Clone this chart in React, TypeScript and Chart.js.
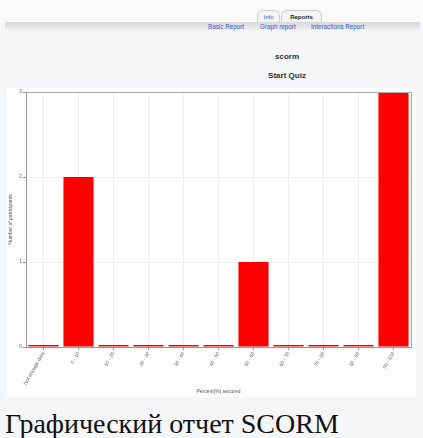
import React, { useEffect, useRef } from "react";
import { Chart, registerables } from "chart.js";

Chart.register(...registerables);

const categories = [
  "Not enough data",
  "0 - 10",
  "10 - 20",
  "20 - 30",
  "30 - 40",
  "40 - 50",
  "50 - 60",
  "60 - 70",
  "70 - 80",
  "80 - 90",
  "90 - 100",
];
const participants = [0, 2, 0, 0, 0, 0, 1, 0, 0, 0, 3];
const yTicks = [0, 1, 2, 3];

export default function App() {
  const ref = useRef<HTMLCanvasElement | null>(null);

  useEffect(() => {
    document.body.style.margin = "0";
    const canvas = ref.current;
    if (!canvas) return;
    const chart = new Chart(canvas, {
      type: "bar",
      data: {
        labels: categories,
        datasets: [
          {
            data: participants,
            backgroundColor: "#ff0000",
            borderWidth: 0,
            minBarLength: 2,
            categoryPercentage: 1,
            barPercentage: 0.86,
          },
        ],
      },
      options: {
        animation: false,
        responsive: false,
        maintainAspectRatio: false,
        layout: { padding: { top: 4, right: 5, left: 0, bottom: 0 } },
        plugins: {
          legend: { display: false },
          tooltip: { enabled: false },
        },
        scales: {
          x: {
            offset: true,
            grid: {
              offset: false,
              color: "#eeeeee",
              drawTicks: true,
              tickLength: 3,
              tickColor: "#999999",
            },
            border: { display: true, color: "#999999", width: 1 },
            ticks: {
              autoSkip: false,
              maxRotation: 60,
              minRotation: 60,
              font: { size: 5, family: "Liberation Sans" },
              color: "#666666",
              padding: 1,
            },
            title: {
              display: true,
              text: "Percent(%) secured",
              font: { size: 5, family: "Liberation Sans" },
              color: "#555555",
              padding: { top: 6, bottom: 2 },
            },
            afterFit: (s: any) => {
              s.height = 50;
            },
          },
          y: {
            min: 0,
            max: 3,
            afterBuildTicks: (s: any) => {
              s.ticks = yTicks.map((v) => ({ value: v }));
            },
            grid: { color: "#eeeeee", tickLength: 3, tickColor: "#999999" },
            border: { display: true, color: "#999999", width: 1 },
            ticks: {
              font: { size: 5, family: "Liberation Sans" },
              color: "#666666",
              padding: 1,
            },
            title: {
              display: true,
              text: "Number of participants",
              font: { size: 5, family: "Liberation Sans" },
              color: "#555555",
              padding: 1,
            },
            afterFit: (s: any) => {
              s.width = 19;
            },
          },
        },
      },
      plugins: [
        {
          id: "frame",
          afterDraw: (c: any) => {
            const { ctx, chartArea: a } = c;
            ctx.save();
            ctx.strokeStyle = "#aaaaaa";
            ctx.lineWidth = 1;
            ctx.beginPath();
            ctx.moveTo(a.left, a.top + 0.5);
            ctx.lineTo(a.right + 0.5, a.top + 0.5);
            ctx.lineTo(a.right + 0.5, a.bottom);
            ctx.stroke();
            ctx.restore();
          },
        },
      ],
    });
    return () => chart.destroy();
  }, []);

  const link: React.CSSProperties = {
    position: "absolute",
    top: 23,
    fontSize: 6.3,
    color: "#3355dd",
    fontFamily: "Liberation Sans, Arial, sans-serif",
    whiteSpace: "nowrap",
  };
  const tab: React.CSSProperties = {
    position: "absolute",
    top: 10,
    height: 12,
    border: "1px solid #cccccc",
    borderBottom: "none",
    borderRadius: "6px 6px 0 0",
    fontSize: 6,
    fontFamily: "Liberation Sans, Arial, sans-serif",
    textAlign: "center",
    lineHeight: "12px",
    boxSizing: "border-box",
  };
  const heading: React.CSSProperties = {
    position: "absolute",
    left: 0,
    width: 574,
    textAlign: "center",
    fontSize: 8,
    fontWeight: "bold",
    fontFamily: "Liberation Sans, Arial, sans-serif",
    color: "#333333",
  };

  return (
    <div
      style={{
        position: "relative",
        width: 423,
        height: 438,
        background: "#f5f6f8",
        overflow: "hidden",
      }}
    >
      <div style={{ position: "absolute", left: 0, top: 0, width: 423, height: 23, background: "#fafafa" }} />
      <div
        style={{
          position: "absolute",
          left: 5,
          top: 22,
          width: 415,
          height: 8,
          background: "linear-gradient(#d8d8d8, #eeeeee)",
        }}
      />
      <div style={{ ...tab, left: 257, width: 23, color: "#3355dd", background: "#f4f4f4" }}>Info</div>
      <div style={{ ...tab, left: 281, width: 41, color: "#222222", fontWeight: "bold", background: "#f4f4f4" }}>
        Reports
      </div>
      <div style={{ ...link, left: 208 }}>Basic Report</div>
      <div style={{ ...link, left: 260 }}>Graph report</div>
      <div style={{ ...link, left: 311 }}>Interactions Report</div>
      <div style={{ ...heading, top: 52 }}>scorm</div>
      <div style={{ ...heading, top: 71 }}>Start Quiz</div>
      <div
        style={{
          position: "absolute",
          left: 7,
          top: 88,
          width: 409,
          height: 309,
          background: "#ffffff",
        }}
      >
        <canvas ref={ref} width={409} height={309} style={{ display: "block" }} />
      </div>
      <div
        style={{
          position: "absolute",
          left: 5,
          top: 410,
          fontSize: 28,
          lineHeight: "28px",
          fontFamily: "Liberation Serif, Times New Roman, serif",
          color: "#111111",
          whiteSpace: "nowrap",
        }}
      >
        Графический отчет SCORM
      </div>
    </div>
  );
}
